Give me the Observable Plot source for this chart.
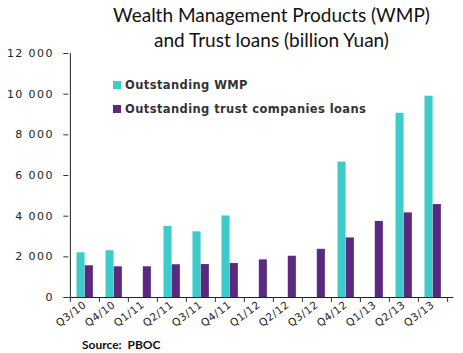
<!DOCTYPE html>
<html>
<head>
<meta charset="utf-8">
<script src="https://cdn.jsdelivr.net/npm/d3@7"></script>
<script src="https://cdn.jsdelivr.net/npm/@observablehq/plot@0.6"></script>
<style>
  html, body { margin: 0; padding: 0; background: #fff; }
  #wrap { position: relative; width: 463px; height: 353px; overflow: hidden; }
  #chart { position: absolute; left: 0; top: 0; }
  .title { position: absolute; left: 0; width: 543px; text-align: center; font-family: Lato, sans-serif; font-size: 19px; color: #111; line-height: 25px; top: 2px; }
  .legend { position: absolute; left: 113px; font-family: "DejaVu Sans", sans-serif; font-size: 11.5px; font-weight: bold; color: #333; letter-spacing: 0.4px; }
  .legend span.sw { position: absolute; left: 0; width: 8px; height: 8px; }
  .legend span.lb { position: absolute; left: 12px; white-space: nowrap; line-height: 12px; }
  .source { position: absolute; left: 82px; top: 337px; font-family: Lato, sans-serif; font-weight: bold; font-size: 12px; color: #111; white-space: pre; }
  g[aria-label="y-axis tick label"] text { letter-spacing: 1.4px; }
  g[aria-label="x-axis tick label"] text { letter-spacing: 0.6px; }
</style>
</head>
<body>
<div id="wrap">
  <div id="chart"></div>
  <div class="title">Wealth Management Products (WMP)<br>and Trust loans (billion Yuan)</div>
  <div class="legend" style="top:81px"><span class="sw" style="background:#3ecbcc"></span><span class="lb" style="top:-2px">Outstanding WMP</span></div>
  <div class="legend" style="top:105px"><span class="sw" style="background:#5b2a80"></span><span class="lb" style="top:-2px">Outstanding trust companies loans</span></div>
  <div class="source">Source:  PBOC</div>
</div>
<script>
const quarters = ["Q3/10","Q4/10","Q1/11","Q2/11","Q3/11","Q4/11","Q1/12","Q2/12","Q3/12","Q4/12","Q1/13","Q2/13","Q3/13"];
const wmpValues = [2200, 2300, null, 3500, 3230, 4010, null, null, null, 6660, null, 9060, 9900];
const trustValues = [1560, 1510, 1510, 1610, 1620, 1670, 1850, 2030, 2370, 2930, 3740, 4160, 4570];
const yTicks = [0, 2000, 4000, 6000, 8000, 10000, 12000];

const cyan = "#3ecbcc";
const purple = "#5b2a80";

const wmpData = quarters.map((q, i) => ({q, v: wmpValues[i]})).filter(d => d.v != null);
const trustData = quarters.map((q, i) => ({q, v: trustValues[i]}));

const W = 463, H = 353, mL = 68.3, mR = 14.7;
const bw = (W - mL - mR) / quarters.length;
const fmt = d => d3.format(",")(d).replace(/,/g, " ");

const chart = Plot.plot({
  width: W,
  height: H,
  marginTop: 53,
  marginBottom: 56,
  marginLeft: mL,
  marginRight: mR,
  style: {fontFamily: "DejaVu Sans, sans-serif", color: "#333", background: "transparent"},
  x: {type: "band", domain: quarters, padding: 0},
  y: {domain: [0, 12000]},
  marks: [
    Plot.barY(wmpData, {x: "q", y: "v", fill: cyan, insetLeft: 6.5, insetRight: bw - 14.8}),
    Plot.barY(trustData, {x: "q", y: "v", fill: purple, insetLeft: 14.8, insetRight: bw - 23.1}),
    Plot.ruleY([0], {stroke: "#222", insetRight: -5}),
    Plot.ruleX([quarters[0]], {x: d => d, dx: -bw / 2, y1: 0, y2: 12000, stroke: "#222"}),
    Plot.axisY({ticks: yTicks, tickSize: 5, tickPadding: 10, tickFormat: fmt, fontSize: 11, label: null, stroke: "#333", fill: "#222"}),
    Plot.axisX({ticks: quarters, tickSize: 5, dx: -bw / 2, tickFormat: () => "", label: null, stroke: "#333"}),
    Plot.axisX({ticks: [quarters[quarters.length - 1]], tickSize: 5, dx: bw / 2, tickFormat: () => "", label: null, stroke: "#333"}),
    Plot.axisX({ticks: quarters, tickSize: 0, tickPadding: 6, tickRotate: -37, fontSize: 10.5, label: null, fill: "#222"})
  ]
});
document.getElementById("chart").appendChild(chart);
</script>
</body>
</html>
